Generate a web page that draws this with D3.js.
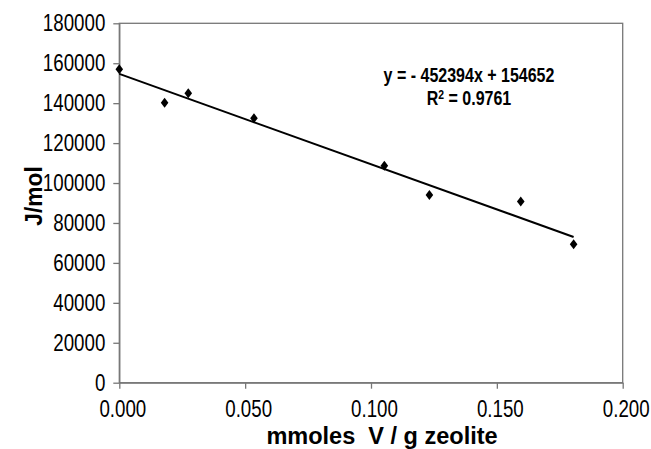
<!DOCTYPE html>
<html>
<head>
<meta charset="utf-8">
<script src="https://cdn.jsdelivr.net/npm/d3@7"></script>
<style>
  body { margin: 0; background: #fff; }
  svg { display: block; font-family: "Liberation Sans", Arial, sans-serif; }
</style>
</head>
<body>
<div id="chart"></div>
<script>
// data
const xVals = [0.0, 0.018, 0.0274, 0.0535, 0.1053, 0.1232, 0.1595, 0.1805];
const yVals = [157000, 140200, 145000, 132500, 108600, 94000, 90800, 69400];
const xTicks = [0, 0.05, 0.1, 0.15, 0.2];
const yTicks = [0, 20000, 40000, 60000, 80000, 100000, 120000, 140000, 160000, 180000];
const slope = -452394;
const intercept = 154652;
const eqLines = ["y = - 452394x + 154652", "R2 = 0.9761"];

const width = 651, height = 449;
const margin = { top: 23.3, right: 28.3, bottom: 66.3, left: 119.3 };

const svg = d3.select("#chart").append("svg")
  .attr("width", width)
  .attr("height", height);

const x = d3.scaleLinear().domain([0, 0.2]).range([margin.left, width - margin.right]);
const y = d3.scaleLinear().domain([0, 180000]).range([height - margin.bottom, margin.top]);

const sx = 0.78; // text in the picture is squeezed sideways

// plot frame
svg.append("rect")
  .attr("x", x(0)).attr("y", y(180000))
  .attr("width", x(0.2) - x(0)).attr("height", y(0) - y(180000))
  .attr("fill", "none").attr("stroke", "#777").attr("stroke-width", 1.3);

// y axis
const yAxis = svg.append("g")
  .attr("transform", `translate(${x(0)},0)`)
  .call(d3.axisLeft(y).tickValues(yTicks).tickSize(6).tickSizeOuter(0).tickFormat(d3.format("d")));
yAxis.select(".domain").attr("stroke", "#777").attr("stroke-width", 1.3);
yAxis.selectAll(".tick line").attr("stroke", "#777").attr("stroke-width", 1.3);
yAxis.selectAll(".tick text")
  .attr("x", -14 / sx)
  .attr("transform", `scale(${sx},1)`)
  .style("font-size", "24px")
  .style("fill", "#000");

// x axis
const xAxis = svg.append("g")
  .attr("transform", `translate(0,${y(0)})`)
  .call(d3.axisBottom(x).tickValues(xTicks).tickSize(6).tickPadding(11).tickSizeOuter(0).tickFormat(d3.format(".3f")));
xAxis.select(".domain").attr("stroke", "#777").attr("stroke-width", 1.3);
xAxis.selectAll(".tick line").attr("stroke", "#777").attr("stroke-width", 1.3);
xAxis.selectAll(".tick text")
  .attr("x", 3 / sx)
  .attr("transform", `scale(${sx},1)`)
  .style("font-size", "24px")
  .style("fill", "#000");

// trend line
const x0 = d3.min(xVals), x1 = d3.max(xVals);
svg.append("line")
  .attr("x1", x(x0)).attr("y1", y(slope * x0 + intercept))
  .attr("x2", x(x1)).attr("y2", y(slope * x1 + intercept))
  .attr("stroke", "#000").attr("stroke-width", 2);

// diamond markers
svg.append("g")
  .selectAll("path")
  .data(xVals.map((v, i) => [v, yVals[i]]))
  .join("path")
  .attr("transform", d => `translate(${x(d[0])},${y(d[1])})`)
  .attr("d", "M0,-5L3.8,0L0,5L-3.8,0Z")
  .attr("fill", "#000");

// equation
const eq = svg.append("g").attr("transform", "translate(469,0)");
eq.append("text")
  .attr("transform", "translate(0,82) scale(0.8,1)")
  .attr("text-anchor", "middle")
  .style("font-size", "20px").style("font-weight", "bold")
  .text(eqLines[0]);
const r2 = eq.append("text")
  .attr("transform", "translate(0,105) scale(0.8,1)")
  .attr("text-anchor", "middle")
  .style("font-size", "20px").style("font-weight", "bold");
r2.append("tspan").text("R");
r2.append("tspan").attr("dy", -6).style("font-size", "13px").text("2");
r2.append("tspan").attr("dy", 6).text(" = 0.9761");

// axis titles
svg.append("text")
  .attr("transform", `translate(382,444) scale(0.98,1)`)
  .attr("text-anchor", "middle")
  .attr("xml:space", "preserve")
  .style("font-size", "24px").style("font-weight", "bold")
  .text("mmoles  V / g zeolite");

svg.append("text")
  .attr("transform", `translate(42,196) rotate(-90) scale(0.95,1)`)
  .attr("text-anchor", "middle")
  .style("font-size", "24px").style("font-weight", "bold")
  .text("J/mol");
</script>
</body>
</html>
